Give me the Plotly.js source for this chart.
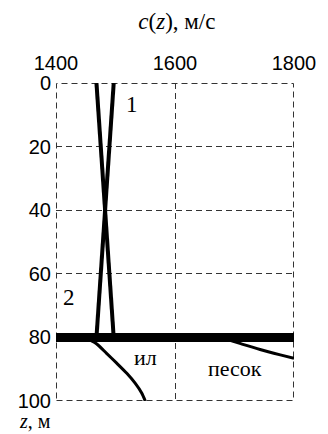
<!DOCTYPE html>
<html>
<head>
<meta charset="utf-8">
<script src="https://cdn.plot.ly/plotly-3.0.1.min.js"></script>
<style>
  html, body { margin: 0; padding: 0; background: #fff; }
  #chart { width: 328px; height: 434px; }
</style>
</head>
<body>
<div id="chart"></div>
<script>
// Sound speed profiles c(z) in the water column and in the bottom sediments
const profileDepth = [0, 80];
const speedProfile1 = [1497, 1468];
const speedProfile2 = [1468, 1497];

// Water / sediment boundary
const boundarySpeed = [1400, 1800];
const boundaryDepth = [80, 80];

// Silt ("ил") sediment profile
const siltSpeed = [1449, 1468, 1485, 1502, 1519, 1533, 1544, 1550];
const siltDepth = [80, 82, 85, 88.1, 91.3, 94.4, 97.5, 100];

// Sand ("песок") sediment profile
const sandSpeed = [1676, 1709, 1743, 1777, 1800];
const sandDepth = [80, 81.9, 83.8, 85.5, 86.6];

// Axis ticks
const speedTicks = [1400, 1600, 1800];
const depthTicks = [0, 20, 40, 60, 80, 100];

// Curve labels
const curveLabels = ['1', '2', 'ил', 'песок'];
const labelSpeed = [1528, 1422, 1551, 1701];
const labelDepth = [6.9, 67.5, 86.2, 89.8];

const serif = '"Liberation Serif", "Times New Roman", serif';
const sans = '"Liberation Sans", Arial, sans-serif';
const black = '#000';
const gridColor = '#333';
const dashPattern = '6px,4px';

// Plot area size in pixels (used to keep the dashed frame on whole pixels)
const plotW = 328 - 56 - 34;
const plotH = 434 - 83 - 33;

const lineTrace = (x, y, w, shape) => ({
  x: x, y: y, type: 'scatter', mode: 'lines',
  line: { color: black, width: w, shape: shape || 'linear', smoothing: 0.8 },
  hoverinfo: 'skip', showlegend: false
});

const traces = [
  lineTrace(speedProfile1, profileDepth, 4),
  lineTrace(speedProfile2, profileDepth, 4),
  lineTrace(siltSpeed, siltDepth, 3, 'spline'),
  lineTrace(sandSpeed, sandDepth, 3, 'spline'),
  lineTrace(boundarySpeed, boundaryDepth, 9)
];

const labelSizes = [23, 23, 22, 22];
const annotations = curveLabels.map((t, i) => ({
  x: labelSpeed[i], y: labelDepth[i], xref: 'x', yref: 'y',
  text: t, showarrow: false, xanchor: 'center', yanchor: 'middle',
  font: { family: serif, size: labelSizes[i], color: black }
}));

// Depth axis caption under the tick labels
annotations.push({
  xref: 'paper', yref: 'paper', x: -0.165, y: -20 / plotH,
  xanchor: 'left', yanchor: 'middle',
  text: '<i>z</i>, м', showarrow: false,
  font: { family: serif, size: 20, color: black }
});

const gridStyle = {
  showgrid: true, gridcolor: gridColor, gridwidth: 1, griddash: dashPattern,
  zeroline: false, showline: false, ticks: '',
  tickfont: { family: sans, size: 20, color: black }
};

const layout = {
  width: 328, height: 434,
  margin: { l: 56, r: 34, t: 83, b: 33 },
  paper_bgcolor: '#fff', plot_bgcolor: '#fff',
  showlegend: false,
  title: {
    text: '<i>c</i>(<i>z</i>), м/с',
    font: { family: serif, size: 23, color: black },
    x: 0.508, xanchor: 'center', xref: 'paper',
    y: 1 - 21 / 434, yanchor: 'middle', yref: 'container'
  },
  xaxis: Object.assign({}, gridStyle, {
    side: 'top', range: [1400, 1800], ticklabelstandoff: 8,
    tickmode: 'array', tickvals: speedTicks, ticktext: speedTicks.map(String)
  }),
  yaxis: Object.assign({}, gridStyle, {
    range: [100, 0], ticklabelstandoff: 4,
    tickmode: 'array', tickvals: depthTicks, ticktext: depthTicks.map(String)
  }),
  // Dashed frame around the plotting area
  shapes: [{
    type: 'rect', xref: 'paper', yref: 'paper',
    x0: 0.5 / plotW, x1: 1 - 0.5 / plotW, y0: 0.5 / plotH, y1: 1 - 0.5 / plotH,
    line: { color: gridColor, width: 1, dash: dashPattern }, layer: 'below'
  }],
  annotations: annotations
};

Plotly.newPlot('chart', traces, layout, { displayModeBar: false, staticPlot: true });
</script>
</body>
</html>
